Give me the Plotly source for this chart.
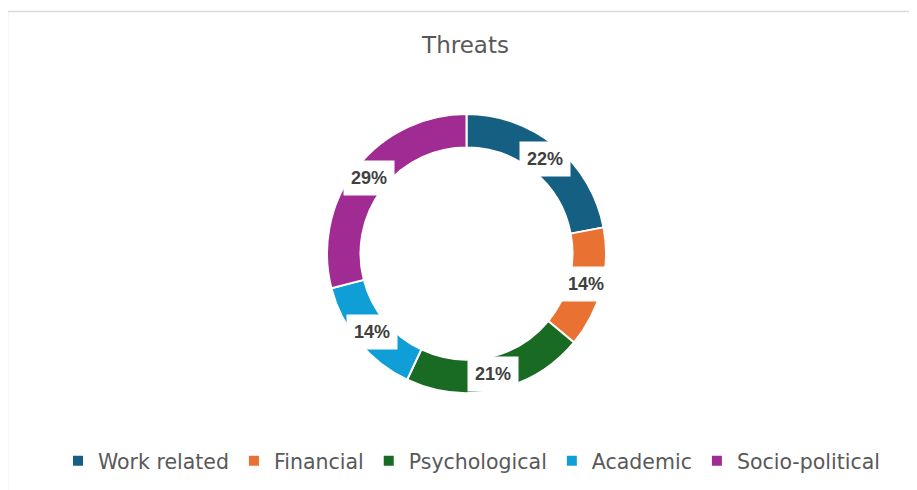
import math
import plotly.graph_objects as go

# data
categories = ["Work related", "Financial", "Psychological", "Academic", "Socio-political"]
shares = [22, 14, 21, 14, 29]
colors = ["#156082", "#E97132", "#196B24", "#0F9ED5", "#A02B93"]

W, H = 917, 490
OFF = 8                    # page body margin shifts the plot by 8px
cx, cy = 466.5 - OFF, 253.5 - OFF      # pie centre in px
r_out = 139.5
r_lab = 123                # label radius in px

fig = go.Figure()
fig.add_trace(go.Pie(
    labels=categories,
    values=shares,
    hole=0.76,
    sort=False,
    direction="clockwise",
    rotation=0,
    marker=dict(colors=colors, line=dict(color="white", width=2)),
    textinfo="none",
    hoverinfo="label+percent",
    domain=dict(x=[(cx - r_out) / W, (cx + r_out) / W],
                y=[1 - (cy + r_out) / H, 1 - (cy - r_out) / H]),
))

# white label boxes at the middle of each slice
total = sum(shares)
cum = 0
for v in shares:
    mid = (cum + v / 2) / total * 2 * math.pi
    cum += v
    px_ = cx + r_lab * math.sin(mid)
    py_ = cy - r_lab * math.cos(mid)
    fig.add_annotation(
        x=px_ / W, y=1 - py_ / H, xref="paper", yref="paper",
        text="<b>%d%%</b>" % round(v / total * 100),
        showarrow=False, bgcolor="white", borderpad=7,
        font=dict(family="Liberation Sans, Arial", size=18, color="#404040"),
        xanchor="center", yanchor="middle",
    )

# chart frame
fig.add_shape(type="rect", xref="paper", yref="paper",
              x0=(7.5 - OFF) / W, x1=1.05, y0=-0.05, y1=1 - (11.5 - OFF) / H,
              line=dict(color="#D9D9D9", width=1.5), layer="below")

fig.update_layout(
    width=W, height=H,
    margin=dict(l=0, r=0, t=0, b=0),
    paper_bgcolor="white",
    plot_bgcolor="white",
    title=dict(text="Threats", x=(465.5 - OFF) / W, xanchor="center",
               y=1 - (45 - OFF) / H, yanchor="middle",
               font=dict(family="DejaVu Sans", size=23, color="#595959")),
    legend=dict(orientation="h", x=(471.5 - OFF) / W, xanchor="center",
                y=(H - 461 + OFF) / H, yanchor="middle",
                font=dict(family="DejaVu Sans", size=20.5, color="#595959"),
                itemclick=False),
    showlegend=True,
)

fig.write_html("out.html")
